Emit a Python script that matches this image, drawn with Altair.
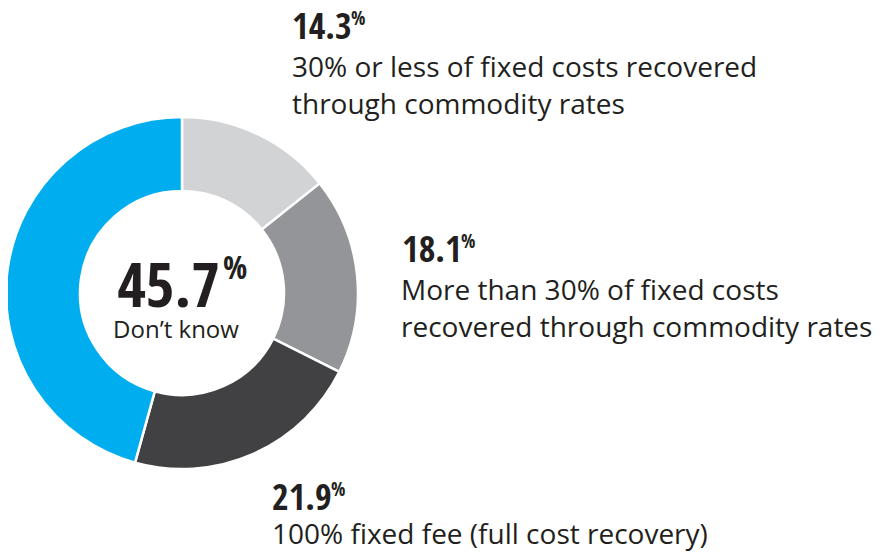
import altair as alt
import pandas as pd

# ---- data ----
categories = [
    "30% or less of fixed costs recovered\nthrough commodity rates",
    "More than 30% of fixed costs\nrecovered through commodity rates",
    "100% fixed fee (full cost recovery)",
    "Don\u2019t know",
]
values = [14.3, 18.1, 21.9, 45.7]
colors = ["#d1d3d4", "#939598", "#414042", "#00aeef"]

# ---- layout (page pixel positions; the plot area starts at the 8px page margin) ----
OFF = 8
num_x = [292, 402, 272, 220]
num_y = [39, 262, 510, 307]
pct_x = [351, 461, 331, 223]
pct_y = [25, 248, 496, 279]
body_x = [292, 401, 272, 176]
body_y = [77, 300, 544, 338]
num_size = [36, 36, 36, 62]
pct_size = [19, 19, 19, 32]
body_size = [28, 28, 28, 24]
num_align = ["left", "left", "left", "right"]
body_align = ["left", "left", "left", "center"]

df = pd.DataFrame({
    "cat": categories,
    "value": values,
    "order": list(range(len(values))),
    "num": [f"{v:.1f}" for v in values],
    "nx": [v - OFF for v in num_x],
    "ny": [v - OFF for v in num_y],
    "px": [v - OFF for v in pct_x],
    "py": [v - OFF for v in pct_y],
    "bx": [v - OFF for v in body_x],
    "by": [v - OFF for v in body_y],
})

W, H = 867, 543
CX, CY = 182 - OFF, 293 - OFF

color_scale = alt.Scale(domain=categories, range=colors)

arc = alt.Chart(df).mark_arc(
    outerRadius=176, innerRadius=102, stroke="white", strokeWidth=2.5
).encode(
    theta=alt.Theta("value:Q", stack=True),
    order=alt.Order("order:Q"),
    color=alt.Color("cat:N", scale=color_scale, legend=None),
    x=alt.value(CX),
    y=alt.value(CY),
)

NUMFONT = "Open Sans Condensed, Roboto Condensed, sans-serif"
BODYFONT = "Open Sans, Noto Sans, sans-serif"
TXT = "#231f20"

layers = [arc]
for i in range(len(values)):
    sub = df.iloc[[i]]
    layers.append(
        alt.Chart(sub).mark_text(
            font=NUMFONT, fontWeight="bold", fontSize=num_size[i],
            align=num_align[i], baseline="alphabetic", color=TXT,
        ).encode(x=alt.X("nx:Q", scale=None), y=alt.Y("ny:Q", scale=None), text="num:N")
    )
    layers.append(
        alt.Chart(sub).mark_text(
            font=NUMFONT, fontWeight="bold", fontSize=pct_size[i],
            align="left", baseline="alphabetic", color=TXT,
        ).encode(x=alt.X("px:Q", scale=None), y=alt.Y("py:Q", scale=None), text=alt.value("%"))
    )
    layers.append(
        alt.Chart(sub).mark_text(
            font=BODYFONT, fontSize=body_size[i], lineBreak="\n", lineHeight=36.5,
            align=body_align[i], baseline="alphabetic", color=TXT,
        ).encode(x=alt.X("bx:Q", scale=None), y=alt.Y("by:Q", scale=None), text="cat:N")
    )

chart = alt.layer(*layers).properties(
    width=W, height=H, autosize=alt.AutoSizeParams(type="none"), padding=0
).configure_view(stroke=None)

chart.save("out.html", embed_options={"renderer": "svg", "actions": False})
